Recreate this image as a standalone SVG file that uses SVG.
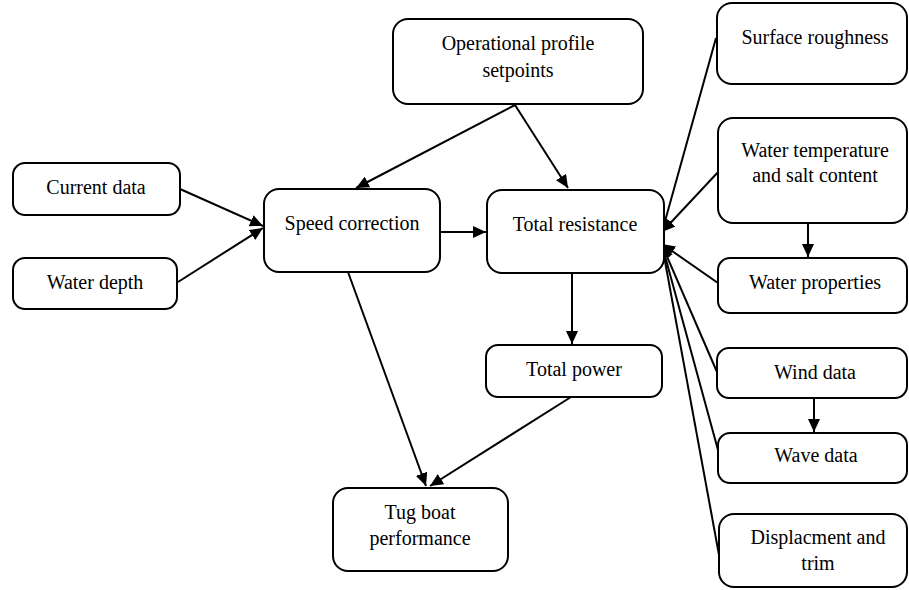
<svg xmlns="http://www.w3.org/2000/svg" width="909" height="590" viewBox="0 0 909 590">
<style>
.box{fill:#fff;stroke:#000;stroke-width:2}
.t{font-family:'Liberation Serif','DejaVu Serif',serif;font-size:20px;fill:#000;text-anchor:middle}
.c{stroke:#000;stroke-width:2;fill:none;marker-end:url(#ah)}
</style>
<defs>
<marker id="ah" markerUnits="userSpaceOnUse" markerWidth="14" markerHeight="12" refX="13" refY="6" orient="auto">
<path d="M0,0 L13,6 L0,12 Z" fill="#000"/>
</marker>
</defs>
<rect width="909" height="590" fill="#fff"/>
<g id="connectors">
<line class="c" x1="180" y1="189" x2="263" y2="226"/>
<line class="c" x1="178" y1="282" x2="263" y2="228"/>
<line class="c" x1="515" y1="105" x2="356" y2="188"/>
<line class="c" x1="515" y1="105" x2="568" y2="188"/>
<line class="c" x1="440" y1="232" x2="486" y2="232"/>
<line class="c" x1="572" y1="273" x2="572" y2="344"/>
<line class="c" x1="348" y1="272" x2="426" y2="486"/>
<line class="c" x1="571" y1="397" x2="430" y2="486"/>
<line class="c" x1="716" y1="38" x2="662" y2="232"/>
<line class="c" x1="720" y1="170" x2="662" y2="232"/>
<line class="c" x1="718" y1="283" x2="662" y2="244"/>
<line class="c" x1="717" y1="372" x2="662" y2="245"/>
<line class="c" x1="718" y1="450" x2="662" y2="245"/>
<line class="c" x1="719" y1="555" x2="662" y2="245"/>
<line class="c" x1="808" y1="223" x2="808" y2="257"/>
<line class="c" x1="814" y1="398" x2="814" y2="432"/>
</g>
<g id="current-data"><rect class="box" x="13" y="163" width="167" height="52" rx="12"/><text class="t" x="96" y="194">Current data</text></g>
<g id="water-depth"><rect class="box" x="13" y="258" width="164" height="51" rx="12"/><text class="t" x="95" y="289">Water depth</text></g>
<g id="operational-profile"><rect class="box" x="393" y="19" width="250" height="85" rx="15"/><text class="t" x="518" y="50">Operational profile</text><text class="t" x="518" y="77">setpoints</text></g>
<g id="speed-correction"><rect class="box" x="264" y="189" width="176" height="83" rx="15"/><text class="t" x="352" y="230">Speed correction</text></g>
<g id="total-resistance"><rect class="box" x="487" y="190" width="177" height="83" rx="15"/><text class="t" x="575" y="231">Total resistance</text></g>
<g id="total-power"><rect class="box" x="486" y="345" width="176" height="52" rx="12"/><text class="t" x="574" y="376">Total power</text></g>
<g id="tug-boat-performance"><rect class="box" x="333" y="488" width="175" height="83" rx="15"/><text class="t" x="420" y="519">Tug boat</text><text class="t" x="420" y="545">performance</text></g>
<g id="surface-roughness"><rect class="box" x="717" y="3" width="190" height="81" rx="15"/><text class="t" x="815" y="44">Surface roughness</text></g>
<g id="water-temperature"><rect class="box" x="718" y="118" width="189" height="105" rx="15"/><text class="t" x="815" y="157">Water temperature</text><text class="t" x="815" y="182">and salt content</text></g>
<g id="water-properties"><rect class="box" x="718" y="258" width="189" height="55" rx="12"/><text class="t" x="815" y="289">Water properties</text></g>
<g id="wind-data"><rect class="box" x="717" y="348" width="190" height="50" rx="12"/><text class="t" x="815" y="379">Wind data</text></g>
<g id="wave-data"><rect class="box" x="718" y="433" width="189" height="50" rx="12"/><text class="t" x="816" y="462">Wave data</text></g>
<g id="displacement-trim"><rect class="box" x="719" y="514" width="188" height="73" rx="15"/><text class="t" x="818" y="544">Displacment and</text><text class="t" x="818" y="570">trim</text></g>
</svg>
